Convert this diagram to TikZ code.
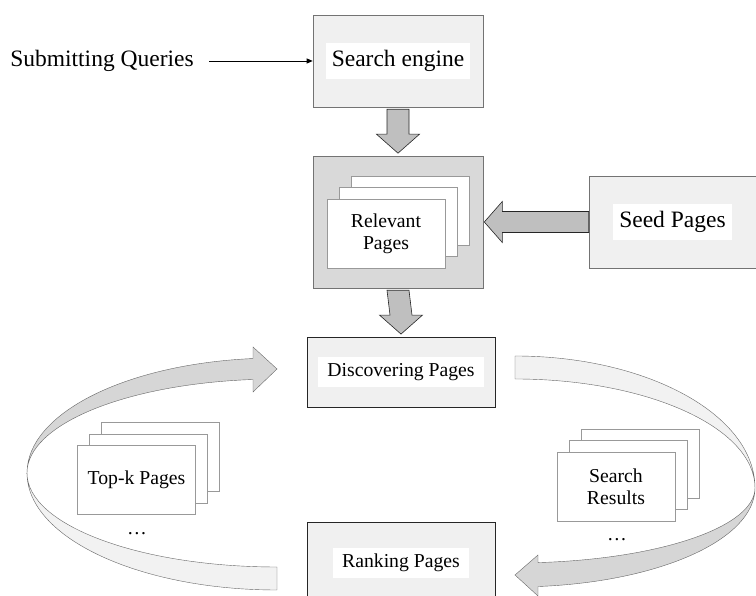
\documentclass[tikz,border=0pt]{standalone}
\usepackage{fontspec}
\setmainfont{Liberation Serif}
\usetikzlibrary{positioning,calc,arrows.meta}

% fat arrow pointing down, from the bottom of #1 to the top of #2
\newcommand{\downblock}[2]{%
  \draw[blockarrow] ($(#1.south)+(-11,-2)$) -- ($(#2.north)+(-11,21.5)$) -- ($(#2.north)+(-21.5,21.5)$)
    -- ($(#2.north)+(0,2.5)$) -- ($(#2.north)+(21.5,21.5)$) -- ($(#2.north)+(11,21.5)$)
    -- ($(#1.south)+(11,-2)$) -- cycle;}

\begin{document}
\begin{tikzpicture}[
    x=1pt, y=1pt,
    box/.style={draw=gray!90!black, fill=gray!12, line width=0.6pt, inner sep=0pt},
    stagebox/.style={draw=black!85, fill=gray!12, line width=0.8pt, inner sep=0pt, minimum width=188, minimum height=70},
    tag/.style={fill=white, inner xsep=6pt, inner ysep=7pt, font=\fontsize{23.5}{26}\selectfont},
    smalltag/.style={fill=white, inner xsep=9pt, inner ysep=6pt, font=\fontsize{19.7}{22}\selectfont},
    page/.style={draw=gray!80, fill=white, line width=0.5pt, minimum width=118, minimum height=69, inner sep=0pt, align=center, font=\fontsize{19.7}{22}\selectfont},
    blockarrow/.style={draw=black!85, fill=gray!50, line width=0.6pt, line join=miter},
    ribbondark/.style={draw=black!60, fill=gray!32, line width=0.4pt},
    ribbonlight/.style={draw=black!60, fill=gray!10, line width=0.4pt},
    arrow/.style={-{Triangle[length=6pt,width=5pt]}, line width=0.8pt}
]
\useasboundingbox (0,0) rectangle (756,596);
\clip (0,0) rectangle (756,596);

% Queries and search engine
\node[font=\fontsize{23.5}{26}\selectfont] (queries) at (102,535) {Submitting Queries};
\node[box, minimum width=170, minimum height=92, label={[tag]center:Search engine}] (search) at (398,535) {};

% Relevant pages
\node[box, fill=gray!30, minimum width=170, minimum height=132] (relevant) at (398,374) {};
\foreach \k in {2,1}
    \node[page] (relevant-\k) at ({386+12*\k},{362.5+11.5*\k}) {};
\node[page] (relevant-0) at (386,362.5) {Relevant\\Pages};

\node[box, minimum width=167, minimum height=92, label={[tag]center:Seed Pages}] (seed) at (672.5,374) {};

% Loop stages
\node[stagebox, label={[smalltag]center:Discovering Pages}] (discover) at (401,224) {};
\node[stagebox, minimum height=82, label={[smalltag]center:Ranking Pages}] (ranking) at (401,33) {};

% Page stacks beside the loop
\foreach \k in {2,1}
    \node[page] (topk-\k) at ({136.5+12*\k},{116+11.5*\k}) {};
\node[page] (topk-0) at (136.5,116) {Top-k Pages};
\node[font=\fontsize{19.7}{22}\selectfont] (topk-dots) at (137,62) {\ldots};

\foreach \k in {2,1}
    \node[page] (results-\k) at ({616+12*\k},{109.5+11.5*\k}) {};
\node[page] (results-0) at (616,109.5) {Search\\Results};
\node[font=\fontsize{19.7}{22}\selectfont] (results-dots) at (617,56) {\ldots};

% Connections
\draw[arrow, shorten <=12pt] (queries) -- (search);
\downblock{search}{relevant}
\downblock{relevant}{discover}
\draw[blockarrow] ($(seed.west)+(0,10.5)$) -- ($(relevant.east)+(19,10.5)$) -- ($(relevant.east)+(19,20.5)$)
    -- ($(relevant.east)+(1,0)$) -- ($(relevant.east)+(19,-20.5)$) -- ($(relevant.east)+(19,-10.5)$)
    -- ($(seed.west)+(0,-10.5)$) -- cycle;

% Loop ribbons
\coordinate (lpinch) at (27,123);
\coordinate (rpinch) at (755,108);
\draw[ribbonlight] (lpinch) arc[start angle=180, end angle=270, x radius=250pt, y radius=117pt]
    -- (277,29) arc[start angle=270, end angle=180, x radius=250pt, y radius=94pt] -- cycle;
\draw[ribbondark] (lpinch) arc[start angle=180, end angle=95.5, x radius=250pt, y radius=115pt]
    -- (253,249) -- (277,227) -- (253,204) -- (253,216.5)
    arc[start angle=95.5, end angle=180, x radius=250pt, y radius=94pt] -- cycle;
\draw[ribbonlight] (515,240) arc[start angle=90, end angle=0, x radius=240pt, y radius=132pt]
    arc[start angle=0, end angle=90, x radius=240pt, y radius=109pt] -- cycle;
\draw[ribbondark] (rpinch) arc[start angle=0, end angle=-84.5, x radius=240pt, y radius=99pt]
    -- (538,0) -- (515,21) -- (538,41) -- (538,33.4)
    arc[start angle=-84.5, end angle=0, x radius=240pt, y radius=75pt] -- cycle;

\end{tikzpicture}
\end{document}
